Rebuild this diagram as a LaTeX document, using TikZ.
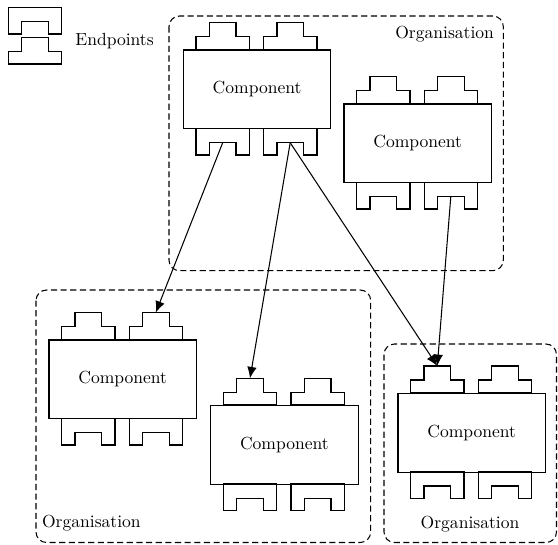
\documentclass[tikz,border=0pt]{standalone}
\usetikzlibrary{arrows.meta}
\tikzset{
  compbox/.style={draw, line width=0.7pt, rectangle, minimum width=84.1pt,
    minimum height=45pt, inner sep=0pt, anchor=north west},
  epline/.style={draw, line width=0.7pt, line join=miter},
  orgbox/.style={draw, line width=0.6pt, dash pattern=on 3.5pt off 2pt, rounded corners=6pt},
  link/.style={line width=0.6pt, -{Latex[length=6.5pt,width=5.5pt]}},
  lbl/.style={inner sep=0pt},
  plug/.pic={\draw[epline] (0,0) -- (0,-12.7) -- (13.3,-12.7) -- (13.3,-26.7)
      -- (40,-26.7) -- (40,-12.7) -- (53.3,-12.7) -- (53.3,0) -- cycle;},
  socket/.pic={\draw[epline] (0,0) -- (0,26.7) -- (13.3,26.7) -- (13.3,14.4)
      -- (40,14.4) -- (40,26.7) -- (53.3,26.7) -- (53.3,0) -- cycle;},
  comp/.pic={
    \node[compbox] (-box) at (0,0) {Component};
    \pic at (13.3,0) {plug};
    \pic at (80.9,0) {plug};
    \pic at (13.3,79) {socket};
    \pic at (80.9,79) {socket};
    \coordinate (-in1) at (40,-26.7);
    \coordinate (-in2) at (107.5,-26.7);
    \coordinate (-out1) at (40,93.4);
    \coordinate (-out2) at (107.5,93.4);
  }
}
\begin{document}
\begin{tikzpicture}[x=0.57pt, y=-0.57pt]
\useasboundingbox (0,0) rectangle (558,544);

% legend
\pic at (8.3,7.3) {socket};
\pic at (8.3,64) {plug};
\node[lbl, anchor=west] (endp) at (75,41) {Endpoints};

% organisations
\draw[orgbox] (169,16) rectangle (503.3,270.7);
\node[lbl, anchor=base east] (org1) at (494.3,38.5) {Organisation};
\draw[orgbox] (36,290) rectangle (370.7,542.5);
\node[lbl, anchor=base west] (org2) at (41.7,527.5) {Organisation};
\draw[orgbox] (384,344) rectangle (556.5,542.5);
\node[lbl, anchor=base] (org3) at (470,528) {Organisation};

% components
\pic (c1) at (182.7,49.3) {comp};
\pic (c2) at (343.3,103.3) {comp};
\pic (c3) at (48.3,339.3) {comp};
\pic (c4) at (210,405) {comp};
\pic (c5) at (397.3,392.7) {comp};

% connectors
\draw[link] (c1-out1) -- (c3-in2);
\draw[link] (c1-out2) -- (c4-in1);
\draw[link] (c1-out2) -- (c5-in1);
\draw[link] (c2-out2) -- (c5-in1);
\end{tikzpicture}
\end{document}
